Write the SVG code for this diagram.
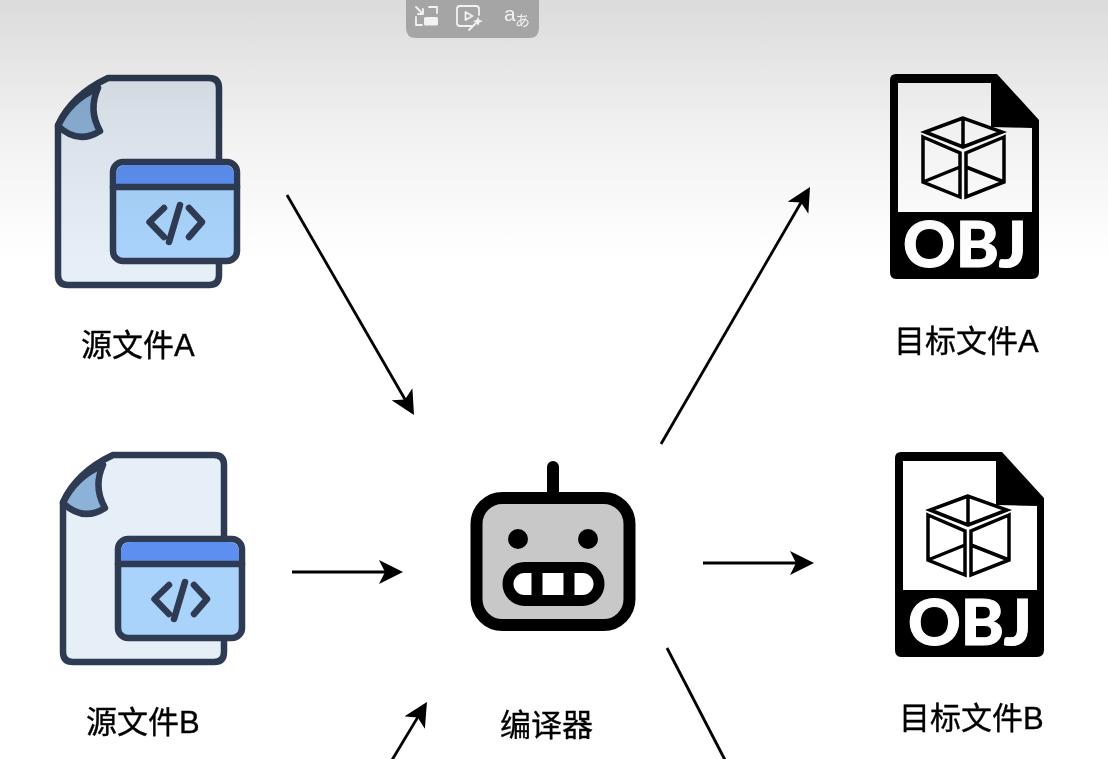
<svg xmlns="http://www.w3.org/2000/svg" width="1108" height="759" viewBox="0 0 1108 759">
<style>
.lbl{font-family:"Liberation Sans","Noto Sans CJK SC",sans-serif;font-size:31px;fill:#000;stroke:#000;stroke-width:.35}
.src{stroke:#2f3b52;stroke-width:6.500;stroke-linejoin:round;stroke-linecap:round}
.conn{stroke:#000;stroke-width:2.8;fill:none}
.ui{fill:none;stroke:#f2f2f2;stroke-width:1.8;stroke-linecap:round;stroke-linejoin:round}
.cube{fill:none;stroke:#000;stroke-width:3.500;stroke-linejoin:miter}
.soft{filter:url(#soft)}
</style>
<defs>
<filter id="soft" x="-5%" y="-5%" width="110%" height="110%"><feGaussianBlur stdDeviation="0.55"/></filter>
<linearGradient id="shade" x1="0" y1="0" x2="0" y2="1">
<stop offset="0" stop-color="#000" stop-opacity=".14"/>
<stop offset=".5" stop-color="#000" stop-opacity=".055"/>
<stop offset="1" stop-color="#000" stop-opacity="0"/>
</linearGradient>
<marker id="arrow" markerUnits="userSpaceOnUse" markerWidth="24" markerHeight="24" viewBox="0 0 24 24" refX="20" refY="12" orient="auto">
<path d="M24,12 L0,0 L6,12 L0,24 Z" fill="#000"/>
</marker>
<g id="srcIcon">
<path class="src" fill="#e6eef7" d="M108,78 H209 Q219,78 219,88 V275 Q219,285 209,285 H68 Q58,285 58,275 V125 Q72,95 108,78 Z"/>
<path class="src" fill="#8db2d8" d="M58,126 Q78,145 100,131 Q88,110 98,88 Q70,100 58,126 Z"/>
<rect x="113" y="162" width="124" height="99" rx="10" fill="#a9d3fb" class="src"/>
<path d="M116,187 V175 Q116,165 126,165 H224 Q234,165 234,175 V187 Z" fill="#5b8ff0"/>
<path class="src" fill="none" d="M113,187 H237"/>
<path class="src" fill="none" d="M164,208 L149.500,222 L164,237 M180,205 L169,242 M189,208 L202,222 L189,237"/>
</g>
<g id="objIcon">
<path fill="#000" d="M896,74 H997 L1039,120 V272 Q1039,279 1032,279 H896 Q890,279 890,272 V80 Q890,74 896,74 Z"/>
<path fill="#fff" d="M898,83 H991 V127 L1032,128 V212 H898 Z"/>
<path class="cube" d="M963,118 L925,132 L963,147 L1002,132 Z M963,118 V147"/>
<path class="cube" d="M923,137 L960,153 V197 L923,182 Z M923,182 L960,167"/>
<path class="cube" d="M1004,137 L966,153 V197 L1004,182 Z M1004,182 L966,167"/>
<text x="965" y="267" text-anchor="middle" font-family="Lato,sans-serif" font-weight="900" font-size="62" fill="#fff" stroke="#fff" stroke-width="1" textLength="124" lengthAdjust="spacingAndGlyphs">OBJ</text>
</g>
</defs>
<rect id="background" width="1108" height="759" fill="#fff"/>
<g id="connectors" class="soft">
<path class="conn" marker-end="url(#arrow)" d="M287,195 L412,411.500"/>
<path class="conn" marker-end="url(#arrow)" d="M292,572 H399"/>
<path class="conn" marker-end="url(#arrow)" d="M392,760 L424.900,705.400"/>
<path class="conn" marker-end="url(#arrow)" d="M661,444 L808,190.500"/>
<path class="conn" marker-end="url(#arrow)" d="M703,563 H810"/>
<path class="conn" d="M667,648 L725,760"/>
</g>
<g id="source-a" class="soft"><use href="#srcIcon"/><text class="lbl" x="81" y="356">源文件A</text></g>
<g id="source-b" class="soft"><use href="#srcIcon" x="5" y="377"/><text class="lbl" x="86" y="733">源文件B</text></g>
<g id="target-a" class="soft"><use href="#objIcon"/><text class="lbl" x="894" y="352">目标文件A</text></g>
<g id="target-b" class="soft"><use href="#objIcon" x="5" y="378"/><text class="lbl" x="899" y="729">目标文件B</text></g>
<g id="compiler" class="soft">
<path d="M553,467 V495" stroke="#000" stroke-width="12" stroke-linecap="round" fill="none"/>
<rect x="476.500" y="498" width="153" height="127" rx="26" fill="#c8c8c8" stroke="#000" stroke-width="12"/>
<circle cx="518" cy="539" r="10"/>
<circle cx="588" cy="539" r="10"/>
<rect x="508" y="567.500" width="91" height="33" rx="16.500" fill="#fff" stroke="#000" stroke-width="11"/>
<path d="M537,567 V601 M569,567 V601" stroke="#000" stroke-width="11"/>
<text class="lbl" x="500" y="736">编译器</text>
</g>
<rect id="top-shade" width="1108" height="260" fill="url(#shade)"/>
<g id="player-bar" class="soft">
<path d="M406,0 H539 V28 Q539,38 529,38 H416 Q406,38 406,28 Z" fill="#a5a5a5"/>
<path class="ui" d="M416,7 L423,14 M423,9 V14 H418 M429,7 H437 V13 M416,17 V25 H422"/>
<rect x="424" y="17" width="14" height="8.500" rx="1.500" fill="#f2f2f2"/>
<path class="ui" d="M472,26 H460 Q457,26 457,23 V9 Q457,6 460,6 H476 Q479,6 479,9 V15"/>
<path class="ui" d="M465.500,12 V20 L472.500,16 Z"/>
<path class="ui" d="M469,30 L476,23"/>
<path d="M478,17 L479.500,20 L483,21 L479.500,22.500 L478,26 L476.500,22.500 L473,21 L476.500,20 Z" fill="#f2f2f2"/>
<text x="504" y="21" font-family="'Liberation Sans',sans-serif" font-size="21" fill="#f2f2f2">a</text>
<text x="515" y="26" font-family="'Noto Sans CJK JP',sans-serif" font-size="15" fill="#f2f2f2">あ</text>
</g>
</svg>
